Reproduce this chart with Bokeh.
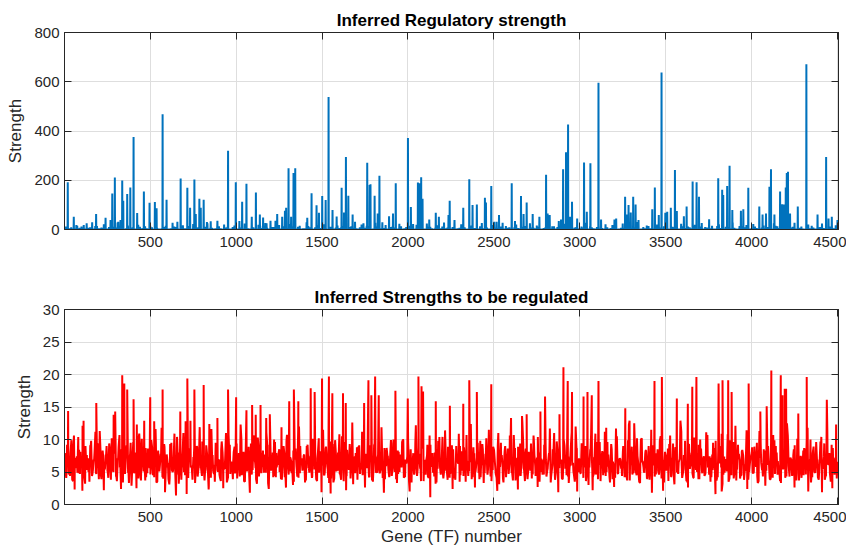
import numpy as np
from bokeh.plotting import figure
from bokeh.layouts import column
from bokeh.models import Range1d, LinearAxis, FixedTicker
from bokeh.embed import file_html
from bokeh.resources import INLINE

# ---------------- data ----------------
N_GENES = 4506
X_TICKS = [500, 1000, 1500, 2000, 2500, 3000, 3500, 4000, 4500]
TOP_Y_TICKS = [0, 200, 400, 600, 800]
BOT_Y_TICKS = [0, 5, 10, 15, 20, 25, 30]

# regulatory strength: visible spikes (gene number, strength)
spike_genes = [20, 55, 75, 113, 162, 185, 216, 240, 269, 279, 294, 314, 327, 337, 343, 366, 384, 403, 424, 463,
               496, 527, 537, 572, 595, 658, 677, 716, 732, 757, 765, 786, 794, 811, 833, 852, 891, 953, 998, 1019,
               1035, 1060, 1091, 1115, 1138, 1157, 1177, 1200, 1229, 1239, 1268, 1284, 1291, 1305, 1320, 1334, 1344,
               1414, 1439, 1468, 1482, 1501, 1521, 1538, 1561, 1585, 1614, 1628, 1639, 1653, 1678, 1692, 1741, 1763,
               1777, 1782, 1806, 1824, 1834, 1851, 1890, 1913, 1929, 2000, 2017, 2030, 2058, 2066, 2077, 2085, 2124,
               2162, 2180, 2236, 2243, 2271, 2322, 2357, 2376, 2401, 2448, 2454, 2485, 2502, 2516, 2530, 2551, 2604,
               2623, 2658, 2673, 2691, 2726, 2765, 2804, 2813, 2825, 2878, 2891, 2903, 2920, 2932, 2944, 2955, 2985,
               3025, 3041, 3062, 3109, 3124, 3202, 3212, 3264, 3274, 3284, 3297, 3311, 3325, 3342, 3422, 3437, 3460,
               3476, 3498, 3509, 3530, 3554, 3565, 3606, 3622, 3657, 3680, 3694, 3753, 3806, 3829, 3835, 3858, 3872,
               3888, 3938, 3952, 3981, 4045, 4064, 4084, 4104, 4113, 4133, 4166, 4178, 4189, 4199, 4205, 4212, 4224,
               4269, 4319, 4384, 4434, 4448, 4467, 4500]
spike_strength = [192, 52, 15, 18, 29, 63, 8, 48, 38, 146, 211, 31, 38, 199, 117, 144, 171, 376, 67, 154,
                  109, 112, 86, 468, 121, 31, 207, 170, 88, 203, 63, 125, 88, 121, 25, 33, 35, 320, 192, 34,
                  113, 186, 52, 150, 61, 49, 25, 35, 35, 63, 52, 76, 88, 249, 52, 229, 249,
                  48, 147, 98, 68, 136, 120, 538, 79, 53, 170, 69, 294, 137, 61, 31, 25, 271,
                  181, 184, 137, 65, 218, 29, 54, 65, 188, 372, 91, 22, 191, 188, 212, 125, 41,
                  68, 52, 59, 117, 38, 88, 204, 99, 102, 129, 110, 177, 31, 31, 59, 27, 188,
                  34, 136, 63, 110, 63, 52, 222, 65, 59, 34, 41, 245, 314, 426, 52, 113, 45,
                  272, 72, 269, 596, 41, 41, 45, 133, 61, 99, 69, 133, 102, 38, 82, 171, 59,
                  638, 68, 72, 88, 242, 75, 54, 93, 195, 192, 133, 42, 208, 161, 140, 177, 259,
                  79, 76, 82, 170, 93, 61, 65, 174, 245, 61, 154, 103, 102, 171, 229, 235, 65,
                  93, 671, 61, 294, 45, 52, 38]
# regulatory strength: low background level, readings every 20 genes (from gene 10)
base_strength = [12, 4, 0, 18, 7, 2, 25, 9, 0, 14, 5, 21, 3, 0, 11, 28, 6, 1, 16, 8, 0, 19, 4, 13, 2,
                 9, 23, 0, 6, 15, 3, 27, 10, 1, 17, 5, 0, 22, 8, 12, 2, 30, 7, 0, 14, 4, 20, 11, 3, 16,
                 0, 8, 24, 5, 13, 1, 19, 6, 26, 0, 10, 3, 18, 7, 2, 22, 12, 0, 15, 4, 29, 9, 1, 17, 6,
                 21, 2, 11, 0, 16, 8, 25, 3, 13, 5, 0, 20, 7, 14, 1, 27, 9, 4, 18, 0, 12, 6, 23, 2, 10,
                 15, 0, 19, 7, 3, 24, 11, 1, 17, 5, 28, 8, 0, 13, 4, 21, 9, 2, 16, 6, 0, 26, 12, 3, 18,
                 7, 22, 1, 14, 9, 0, 20, 5, 11, 3, 25, 8, 16, 0, 6, 19, 2, 13, 10, 0, 23, 4, 17, 8, 1,
                 12, 27, 3, 9, 0, 15, 6, 21, 2, 18, 11, 0, 24, 7, 14, 4, 30, 1, 10, 16, 5, 0, 20, 8, 13,
                 2, 17, 9, 0, 23, 6, 12, 4, 19, 1, 26, 10, 3, 15, 0, 21, 7, 11, 5, 28, 0, 14, 9, 18, 3,
                 22, 6, 0, 16, 10, 2, 25, 13, 4, 19, 0, 8, 27, 5, 12, 1, 20, 15, 3, 9, 24, 0, 11, 7, 17]
# regulatory strength: second set of background readings, every 20 genes (from gene 20)
base_strength_b = [3, 9, 1, 5, 12, 0, 7, 2, 14, 4, 6, 0, 10, 3, 8, 1, 13, 5, 0, 9, 2, 11, 6, 4, 15,
                   1, 7, 3, 10, 0, 5, 12, 2, 8, 4, 14, 1, 6, 9, 0, 11, 3, 7, 5, 13, 2, 8, 0, 10, 4,
                   6, 0, 12, 3, 9, 1, 15, 5, 7, 2, 10, 4, 0, 13, 6, 8, 1, 11, 3, 5, 14, 0, 9, 2, 7,
                   11, 4, 1, 8, 6, 13, 0, 10, 3, 5, 9, 2, 15, 7, 1, 12, 4, 6, 0, 10, 8, 3, 13, 5, 1,
                   9, 2, 14, 6, 0, 11, 4, 8, 1, 12, 5, 3, 10, 0, 7, 15, 2, 9, 6, 1, 13, 4, 8, 0, 11,
                   5, 12, 3, 7, 1, 10, 6, 0, 14, 2, 8, 4, 11, 1, 9, 5, 13, 3, 0, 7, 12, 6, 2, 10, 4,
                   8, 1, 13, 5, 10, 3, 0, 9, 6, 15, 2, 7, 4, 12, 1, 8, 11, 0, 5, 14, 3, 9, 6, 1, 10,
                   2, 11, 7, 0, 13, 4, 9, 1, 6, 12, 3, 8, 5, 0, 14, 6, 2, 10, 4, 7, 1, 13, 9, 3, 5,
                   12, 0, 8, 4, 10, 2, 15, 6, 1, 9, 5, 11, 3, 7, 0, 13, 4, 8, 2, 10, 6, 1, 12, 5, 9]

# strengths to be regulated: background readings every 10 genes (from gene 1)
reg_base = [6.8, 4.1, 8.7, 5.3, 9.9, 3.6, 7.2, 5.9, 10.4, 4.7, 6.1, 8.3, 3.2, 7.6, 5.0, 9.1, 4.4, 6.9, 11.2, 5.6, 3.9, 8.0, 6.3, 4.8, 7.7,
            5.2, 9.4, 3.8, 6.6, 8.9, 4.3, 7.1, 10.7, 5.5, 3.4, 6.0, 8.5, 4.9, 7.4, 2.9, 9.6, 5.8, 6.7, 4.0, 8.2, 10.1, 5.1, 3.7, 7.9, 6.2,
            4.6, 8.8, 5.4, 11.6, 3.5, 6.5, 7.8, 4.2, 9.3, 5.7, 6.4, 3.1, 8.1, 5.0, 10.9, 4.5, 7.0, 6.1, 3.8, 9.7, 5.3, 7.5, 4.1, 8.6, 6.0,
            7.3, 3.3, 9.0, 5.6, 6.8, 4.4, 10.3, 5.9, 7.7, 2.8, 8.4, 6.3, 4.7, 9.5, 5.2, 6.9, 3.6, 8.0, 5.5, 11.0, 4.0, 7.2, 6.6, 3.9, 8.9,
            5.0, 7.6, 4.3, 9.8, 6.1, 3.5, 8.3, 5.7, 7.0, 4.6, 10.6, 6.4, 3.2, 8.7, 5.4, 7.9, 4.9, 6.2, 9.2, 3.7, 7.4, 5.8, 10.0, 4.2, 6.7,
            8.5, 3.9, 6.0, 7.8, 4.5, 9.4, 5.1, 6.6, 3.0, 8.2, 5.9, 11.4, 4.8, 7.1, 6.3, 3.4, 9.0, 5.6, 7.5, 4.1, 8.8, 6.2, 3.6, 10.2, 5.3,
            7.0, 4.6, 8.6, 5.8, 3.3, 9.7, 6.5, 4.0, 7.7, 5.2, 10.8, 3.8, 6.9, 8.1, 4.4, 5.5, 9.3, 6.0, 3.1, 7.4, 5.9, 8.9, 4.7, 6.4, 11.1,
            4.3, 7.2, 5.6, 9.1, 3.7, 6.8, 8.0, 4.9, 10.5, 5.4, 6.1, 3.5, 8.4, 7.3, 4.2, 9.9, 5.7, 6.6, 3.9, 8.3, 5.0, 7.6, 10.0, 4.5, 6.3,
            9.6, 5.1, 3.4, 7.9, 6.2, 4.8, 8.7, 5.5, 11.3, 3.6, 6.9, 7.5, 4.1, 9.2, 5.8, 6.0, 3.2, 8.5, 7.0, 4.6, 10.4, 5.3, 6.7, 3.8, 8.1,
            5.9, 7.7, 4.0, 9.0, 6.4, 3.5, 8.2, 5.2, 7.1, 10.7, 4.4, 6.5, 3.9, 8.8, 5.6, 7.3, 4.9, 9.8, 6.1, 3.3, 7.8, 5.4, 11.5, 4.3, 6.8,
            8.4, 4.7, 6.0, 3.1, 9.5, 5.7, 7.4, 4.2, 8.6, 6.3, 10.1, 3.7, 7.0, 5.1, 8.9, 4.5, 6.6, 9.3, 3.6, 7.6, 5.5, 6.2, 4.0, 10.6, 5.9,
            7.2, 3.8, 8.3, 6.7, 4.6, 9.7, 5.3, 7.9, 3.4, 6.1, 11.0, 4.9, 8.0, 5.6, 6.9, 3.9, 9.1, 7.5, 4.3, 5.8, 10.3, 6.4, 3.5, 8.7, 5.0,
            6.5, 9.4, 4.1, 7.3, 5.2, 3.0, 8.5, 6.8, 4.7, 10.9, 5.9, 7.1, 3.6, 8.2, 6.0, 4.4, 9.6, 5.4, 7.7, 3.9, 6.3, 11.7, 4.8, 7.0, 5.5,
            8.1, 4.2, 6.6, 9.9, 3.7, 7.4, 5.1, 8.8, 4.5, 6.2, 3.3, 10.2, 5.7, 7.8, 4.0, 9.0, 6.5, 3.8, 8.4, 5.3, 7.2, 4.6, 10.5, 6.1, 3.4,
            7.5, 5.8, 9.3, 4.3, 6.9, 3.1, 8.6, 5.0, 7.0, 11.2, 4.9, 6.4, 3.6, 9.4, 5.5, 7.9, 4.1, 8.3, 6.0, 3.9, 10.0, 5.2, 7.3, 4.7, 8.9,
            6.2, 3.5, 7.7, 5.6, 9.8, 4.4, 6.7, 8.1, 3.2, 7.4, 5.9, 10.8, 4.0, 6.3, 8.7, 5.1, 3.7, 9.2, 6.8, 4.5, 7.6, 5.4, 11.4, 3.8, 6.5,
            8.0, 4.8, 6.1, 9.5, 3.6, 7.2, 5.3, 8.5, 4.2, 10.3, 6.6, 3.9, 7.8, 5.7, 9.0, 4.6, 6.0, 3.3, 8.8, 5.5, 7.1, 10.6, 4.3, 6.9, 5.0,
            9.1, 3.7, 7.5, 5.8, 4.1, 8.3, 6.4, 10.1, 3.4, 7.0, 5.2, 8.9, 4.9, 6.7, 3.8, 9.7, 5.6, 7.4, 4.4, 11.3, 6.2, 3.5, 8.2, 5.9, 7.3,
            6.6]
# strengths to be regulated: second set of background readings, every 10 genes (from gene 6)
reg_base_b = [5.5, 9.2, 4.6, 7.9, 3.8, 10.6, 6.1, 4.9, 8.4, 5.7, 12.1, 4.3, 7.0, 6.4, 3.5, 9.8, 5.2, 8.1, 4.7, 6.8, 11.3, 3.9, 7.5, 5.4, 9.0,
              4.1, 6.6, 10.2, 5.0, 7.8, 3.6, 8.9, 6.0, 4.4, 12.5, 5.8, 7.2, 3.3, 9.5, 6.3, 4.8, 8.0, 5.1, 10.9, 3.7, 7.4, 6.7, 4.2, 8.6, 5.6,
              9.9, 4.5, 7.1, 3.4, 8.3, 5.9, 11.8, 4.0, 6.5, 7.7, 3.9, 9.3, 5.3, 6.9, 4.6, 10.4, 3.2, 8.2, 6.2, 5.0, 12.8, 4.4, 7.6, 5.7, 3.8,
              8.8, 6.0, 4.3, 10.0, 5.5, 7.3, 3.7, 9.1, 4.9, 6.6, 11.6, 5.2, 3.5, 8.5, 6.8, 4.1, 9.7, 5.9, 7.0, 3.4, 10.8, 4.7, 6.3, 8.1, 5.1,
              4.0, 7.9, 12.3, 5.6, 3.6, 8.7, 6.2, 4.5, 9.4, 5.3, 7.1, 3.9, 10.3, 6.5, 4.8, 8.3, 5.0, 11.1, 3.3, 7.4, 6.0, 4.2, 9.6, 5.7, 7.8,
              6.4, 3.8, 9.0, 5.1, 10.7, 4.6, 7.2, 5.9, 3.5, 8.6, 4.3, 12.0, 6.7, 5.2, 7.7, 3.7, 9.2, 4.9, 6.1, 10.1, 5.4, 3.9, 8.0, 6.9, 4.4,
              11.5, 5.0, 7.5, 4.1, 8.8, 6.3, 3.4, 9.9, 5.6, 7.0, 4.7, 10.5, 3.6, 6.6, 8.4, 5.3, 4.0, 12.6, 6.0, 7.9, 3.8, 9.1, 5.5, 4.5, 8.2,
              5.8, 10.3, 4.2, 6.8, 3.5, 9.4, 5.1, 7.6, 4.8, 11.9, 6.2, 3.9, 8.7, 5.4, 7.2, 4.4, 10.0, 6.5, 3.3, 8.1, 5.7, 9.6, 4.1, 6.9, 7.4,
              3.7, 8.5, 6.1, 4.6, 12.2, 5.3, 7.8, 3.6, 9.3, 5.0, 6.7, 4.3, 10.6, 7.1, 4.9, 8.0, 3.4, 9.8, 5.9, 6.4, 4.0, 11.4, 5.2, 7.5, 4.7,
              9.1, 5.5, 3.8, 7.3, 10.9, 4.5, 6.0, 8.8, 3.5, 6.6, 5.1, 12.4, 4.2, 7.9, 5.7, 9.5, 3.9, 6.3, 8.4, 4.8, 10.2, 5.4, 7.0, 3.6, 8.9,
              6.5, 4.1, 11.0, 5.8, 7.6, 3.4, 9.0, 6.2, 4.7, 8.3, 5.0, 10.7, 3.7, 7.2, 6.8, 4.4, 12.7, 5.3, 8.6, 3.9, 6.1, 9.4, 4.6, 7.7, 5.6,
              10.4, 3.5, 7.0, 5.2, 8.9, 4.3, 6.6, 11.7, 4.9, 7.4, 3.8, 9.7, 5.9, 6.3, 4.0, 10.1, 5.5, 8.2, 3.3, 7.8, 6.0, 4.6, 12.0, 5.1, 7.1,
              4.8, 9.2, 6.4, 3.6, 8.0, 5.7, 10.8, 4.2, 7.3, 5.3, 3.9, 9.6, 6.9, 4.5, 11.2, 5.0, 7.7, 3.4, 8.5, 6.2, 4.1, 10.5, 5.8, 7.0, 4.4,
              8.7, 5.4, 3.7, 12.3, 6.1, 4.6, 9.1, 5.1, 7.5, 3.5, 10.0, 6.7, 4.9, 8.3, 5.6, 3.8, 11.5, 6.3, 4.3, 7.9, 5.2, 9.8, 4.0, 6.8, 8.1,
              5.9, 3.6, 10.6, 7.2, 4.7, 8.8, 5.0, 6.5, 12.9, 4.1, 7.6, 5.5, 3.4, 9.3, 6.0, 4.8, 10.3, 5.3, 7.1, 3.9, 8.6, 6.6, 4.4, 11.1, 5.7,
              7.4, 4.2, 9.5, 5.6, 3.7, 8.2, 6.3, 10.9, 4.6, 7.0, 5.1, 3.5, 9.9, 6.8, 4.0, 12.1, 5.4, 7.8, 4.5, 8.4, 3.8, 6.2, 10.2, 5.0, 7.3,
              4.9, 8.9, 5.8, 3.3, 11.3, 6.4, 4.3, 7.7, 5.2, 9.0, 3.9, 6.9, 10.7, 4.7, 8.0, 5.5, 3.6, 9.4, 6.1, 4.1, 12.5, 5.9, 7.2, 4.4, 8.5,
              6.0, 10.1, 3.7, 7.5, 5.3, 8.7, 4.6, 11.8, 6.6, 3.4, 7.9, 5.0, 9.6, 4.2, 6.4, 10.4, 5.7, 3.8, 8.3, 6.2, 4.8, 9.2, 5.4, 7.0, 4.0]
# strengths to be regulated: third set of background readings, every 10 genes (from gene 3)
reg_base_c = [7.9, 5.1, 8.6, 4.4, 6.3, 9.2, 5.6, 7.4, 4.8, 8.1, 6.0, 4.2, 9.0, 5.3, 7.1, 8.8, 4.6, 6.7, 5.0, 9.4, 6.2, 4.5, 8.3, 5.8, 7.6,
              4.9, 8.9, 6.4, 5.2, 9.6, 4.3, 7.0, 5.7, 8.5, 6.1, 4.7, 9.1, 5.4, 7.8, 4.1, 8.2, 6.6, 5.0, 10.3, 4.4, 7.3, 5.9, 8.7, 4.8, 6.5,
              8.4, 5.5, 4.2, 9.3, 6.8, 5.1, 7.7, 4.6, 8.9, 5.8, 6.3, 4.0, 9.5, 5.3, 7.2, 4.7, 8.0, 6.9, 5.6, 11.0, 4.5, 7.5, 6.0, 8.6, 5.2,
              6.7, 4.3, 8.8, 5.7, 7.1, 9.7, 4.9, 6.2, 5.4, 8.3, 4.1, 7.6, 6.1, 9.0, 5.0, 4.6, 8.5, 6.8, 5.5, 7.4, 4.2, 9.2, 5.9, 6.6, 4.8,
              9.4, 5.3, 7.0, 4.5, 8.1, 6.4, 5.1, 8.9, 4.7, 7.3, 10.5, 5.6, 6.0, 4.3, 8.4, 5.8, 7.7, 4.9, 9.1, 6.3, 5.2, 8.0, 4.4, 7.9, 6.1,
              5.0, 8.7, 6.5, 4.2, 9.8, 5.5, 7.2, 4.8, 8.3, 6.9, 5.3, 4.1, 9.0, 6.2, 7.5, 4.6, 8.6, 5.7, 6.7, 4.3, 10.1, 5.9, 7.1, 4.9, 8.2,
              6.0, 4.5, 8.9, 5.4, 7.6, 4.0, 9.3, 6.6, 5.1, 8.0, 4.7, 7.3, 5.8, 9.6, 4.4, 6.4, 8.5, 5.2, 7.0, 4.8, 8.8, 6.2, 5.5, 11.2, 4.6,
              7.8, 5.6, 4.3, 8.4, 6.1, 9.1, 4.9, 7.2, 5.3, 6.8, 4.1, 8.7, 5.9, 7.5, 4.5, 9.4, 6.3, 5.0, 8.1, 4.7, 7.7, 5.7, 9.9, 4.2, 6.6,
              8.3, 4.8, 6.9, 5.4, 9.5, 4.4, 7.1, 6.0, 8.6, 5.1, 4.6, 9.2, 6.5, 5.8, 7.9, 4.3, 8.0, 5.5, 10.4, 6.2, 4.9, 7.4, 5.3, 8.9, 4.1,
              5.9, 8.5, 4.7, 7.0, 6.3, 9.0, 5.2, 4.4, 8.2, 6.7, 5.6, 9.7, 4.8, 7.5, 5.0, 8.4, 6.1, 4.2, 9.3, 5.7, 7.2, 4.6, 8.8, 6.4, 5.3,
              7.7, 4.5, 9.1, 5.8, 6.6, 4.0, 8.3, 5.4, 7.3, 10.6, 4.9, 6.0, 8.7, 5.1, 4.3, 9.4, 6.8, 5.6, 7.9, 4.7, 8.1, 5.2, 6.5, 9.8, 4.4,
              6.2, 8.0, 5.0, 4.6, 9.2, 6.9, 5.5, 7.6, 4.2, 8.5, 5.9, 7.0, 4.8, 9.5, 6.3, 5.3, 8.2, 4.5, 7.4, 6.0, 11.1, 5.1, 4.1, 8.6, 6.7,
              4.8, 7.9, 5.7, 9.0, 4.4, 6.4, 8.4, 5.2, 7.2, 4.6, 9.6, 6.1, 5.4, 8.0, 4.9, 7.5, 5.8, 4.3, 9.3, 6.6, 5.0, 8.8, 4.7, 7.1, 6.2,
              9.0, 5.5, 4.2, 7.7, 6.3, 8.9, 4.8, 5.9, 10.2, 4.5, 7.0, 6.5, 5.1, 8.3, 4.0, 7.8, 5.6, 9.1, 6.0, 4.6, 8.5, 5.3, 7.3, 4.9, 6.8,
              5.2, 8.6, 6.7, 4.3, 9.4, 5.8, 7.1, 4.7, 8.2, 6.2, 5.4, 9.8, 4.4, 7.6, 5.9, 8.0, 4.1, 6.9, 5.0, 9.2, 6.4, 4.8, 7.4, 5.6, 10.7,
              4.6, 7.2, 5.3, 8.7, 6.0, 4.2, 9.0, 5.7, 7.8, 4.9, 6.5, 8.4, 5.1, 4.5, 9.6, 6.3, 5.5, 7.5, 4.0, 8.1, 6.8, 5.2, 9.3, 4.7, 7.0,
              8.8, 5.0, 6.6, 4.4, 7.9, 9.5, 5.6, 4.8, 8.3, 6.1, 5.3, 7.3, 4.1, 9.9, 5.9, 6.7, 4.6, 8.5, 5.4, 7.1, 4.3, 8.9, 6.2, 5.7, 7.6,
              6.0, 4.7, 9.2, 5.2, 7.4, 4.5, 8.6, 6.4, 5.0, 10.0, 4.2, 7.7, 5.8, 6.9, 4.9, 8.2, 5.5, 9.4, 4.4, 6.3, 7.9, 5.1, 8.7, 4.6, 6.6]
# strengths to be regulated: visible peaks
reg_peak_genes = [22, 112, 186, 287, 296, 337, 349, 366, 403, 422, 465, 500, 523, 572, 675, 716, 734, 757, 788, 811,
                  844, 891, 953, 1000, 1060, 1093, 1114, 1142, 1175, 1196, 1264, 1309, 1336, 1362, 1434, 1457, 1500,
                  1540, 1560, 1622, 1638, 1745, 1770, 1787, 1809, 1830, 1927, 1999, 2061, 2079, 2088, 2162, 2244,
                  2322, 2357, 2401, 2485, 2600, 2664, 2691, 2771, 2798, 2882, 2905, 2930, 2955, 3022, 3045, 3070,
                  3109, 3154, 3265, 3290, 3317, 3435, 3478, 3565, 3629, 3655, 3679, 3808, 3831, 3864, 3884, 3983,
                  4051, 4088, 4115, 4170, 4180, 4193, 4201, 4272, 4321, 4438, 4492]
reg_peak_values = [14.4, 12.9, 15.6, 13.8, 14.3, 19.9, 18.6, 17.7, 16.2, 12.3, 12.9, 16.5, 12.8, 17.7, 14.3, 19.4, 12.9, 17.7, 11.9, 18.4,
                   12.4, 13.3, 17.7, 16.5, 14.5, 15.3, 13.8, 15.3, 13.3, 13.9, 11.9, 15.9, 17.7, 15.9, 17.9, 17.3, 19.4,
                   19.7, 17.1, 17.1, 15.6, 15.6, 19.1, 16.8, 19.7, 16.8, 17.5, 16.3, 19.7, 18.2, 17.4, 15.9, 15.2,
                   15.5, 19.1, 17.3, 18.5, 13.3, 13.6, 13.9, 14.3, 16.6, 13.9, 21.1, 19.0, 17.3, 16.6, 17.3, 16.8,
                   19.0, 11.8, 14.8, 12.9, 12.5, 19.0, 19.6, 16.3, 15.5, 18.1, 19.6, 18.6, 19.1, 19.1, 17.3, 18.6,
                   14.3, 15.1, 20.6, 19.9, 16.8, 17.8, 17.8, 14.0, 19.6, 16.1, 12.3]
# strengths to be regulated: visible dips
reg_dip_genes = [60, 105, 230, 330, 420, 586, 650, 712, 840, 925, 1080, 1190, 1290, 1497, 1550, 1640, 1750, 1860,
                 2010, 2130, 2260, 2390, 2520, 2640, 2755, 2875, 2985, 3075, 3200, 3420, 3485, 3630, 3790, 3826,
                 3975, 4080, 4250, 4330, 4410, 4470]
reg_dip_values = [2.3, 2.1, 2.2, 2.4, 2.5, 1.9, 1.4, 1.6, 2.3, 2.5, 1.8, 2.4, 2.6, 1.9, 1.7, 2.2, 2.6, 1.8,
                  2.0, 1.1, 2.4, 2.6, 2.1, 2.3, 2.7, 1.9, 2.0, 2.2, 2.7, 1.8, 2.1, 2.6, 1.6, 2.0,
                  2.4, 2.9, 2.6, 2.0, 1.9, 2.5]

# ---------------- build series ----------------
top_x = np.arange(1, N_GENES + 1)
top_y = np.zeros(N_GENES)
for start, vals in ((10, base_strength), (20, base_strength_b)):
    g = start + 20 * np.arange(len(vals))
    keep = g <= N_GENES
    top_y[g[keep] - 1] = np.array(vals)[keep]
top_y[np.array(spike_genes) - 1] = spike_strength

bx = np.concatenate([1 + 10 * np.arange(len(reg_base)), 6 + 10 * np.arange(len(reg_base_b)),
                     3 + 10 * np.arange(len(reg_base_c)), reg_peak_genes, reg_dip_genes]).astype(float)
by = np.concatenate([reg_base, reg_base_b, reg_base_c, reg_peak_values, reg_dip_values]).astype(float)
order = np.argsort(bx, kind="stable")
bx, by = bx[order], by[order]
m = bx <= N_GENES
bx, by = bx[m], by[m]

# ---------------- styling ----------------
FONT = "Liberation Sans"
AXC = "#262626"
GRID = "#dedede"


def style_axis(ax, ticks, labels=True):
    ax.ticker = FixedTicker(ticks=ticks)
    ax.axis_line_color = AXC
    ax.axis_line_width = 1
    ax.major_tick_line_color = AXC
    ax.major_tick_in = 7
    ax.major_tick_out = 0
    ax.minor_tick_line_color = None
    ax.major_label_text_font = FONT
    if labels:
        ax.major_label_text_color = AXC
        ax.major_label_text_font_size = "15px"
        ax.major_label_standoff = 5
    else:
        ax.major_label_text_color = None
        ax.major_label_text_alpha = 0
        ax.major_label_text_font_size = "1px"
        ax.major_label_standoff = 0
        ax.axis_label = None


def make_panel(title, ymax, yticks, height, top_border, bottom_border, xlabel=None):
    p = figure(width=846, height=height, x_range=Range1d(1, N_GENES), y_range=Range1d(0, ymax),
               output_backend="svg", toolbar_location=None,
               min_border_left=64, min_border_right=8, min_border_top=top_border, min_border_bottom=bottom_border)
    p.background_fill_color = "white"
    p.border_fill_color = "white"
    p.outline_line_color = AXC
    p.title.text = title
    p.title.align = "center"
    p.title.text_font = FONT
    p.title.text_font_size = "17px"
    p.title.text_font_style = "bold"
    p.title.text_color = "black"
    p.title.standoff = 5
    style_axis(p.xaxis[0], X_TICKS)
    p.xaxis[0].major_label_standoff = 7
    style_axis(p.yaxis[0], yticks)
    p.yaxis[0].axis_label = "Strength"
    p.yaxis[0].axis_label_text_font = FONT
    p.yaxis[0].axis_label_text_font_size = "17px"
    p.yaxis[0].axis_label_text_font_style = "normal"
    p.yaxis[0].axis_label_text_color = AXC
    p.yaxis[0].axis_label_standoff = 6
    if xlabel:
        p.xaxis[0].axis_label = xlabel
        p.xaxis[0].axis_label_text_font = FONT
        p.xaxis[0].axis_label_text_font_size = "17px"
        p.xaxis[0].axis_label_text_font_style = "normal"
        p.xaxis[0].axis_label_text_color = AXC
        p.xaxis[0].axis_label_standoff = 2
    top_ax = LinearAxis()
    style_axis(top_ax, X_TICKS, labels=False)
    p.add_layout(top_ax, "above")
    right_ax = LinearAxis()
    style_axis(right_ax, yticks, labels=False)
    p.add_layout(right_ax, "right")
    p.xgrid.ticker = FixedTicker(ticks=X_TICKS)
    p.ygrid.ticker = FixedTicker(ticks=yticks)
    for g in (p.xgrid[0], p.ygrid[0]):
        g.grid_line_color = GRID
        g.grid_line_width = 1
    return p


p1 = make_panel("Inferred Regulatory strength", 800, TOP_Y_TICKS, 283, 32, 54)
p1.line(top_x, top_y, line_color="#0072BD", line_width=2, line_join="bevel")

p2 = make_panel("Inferred Strengths to be regulated", 30, BOT_Y_TICKS, 265, 24, 44, xlabel="Gene (TF) number")
p2.line(bx, by, line_color="#FF0000", line_width=2, line_join="bevel")

layout = column(p1, p2)
open("out.html", "w").write(file_html(layout, INLINE))
